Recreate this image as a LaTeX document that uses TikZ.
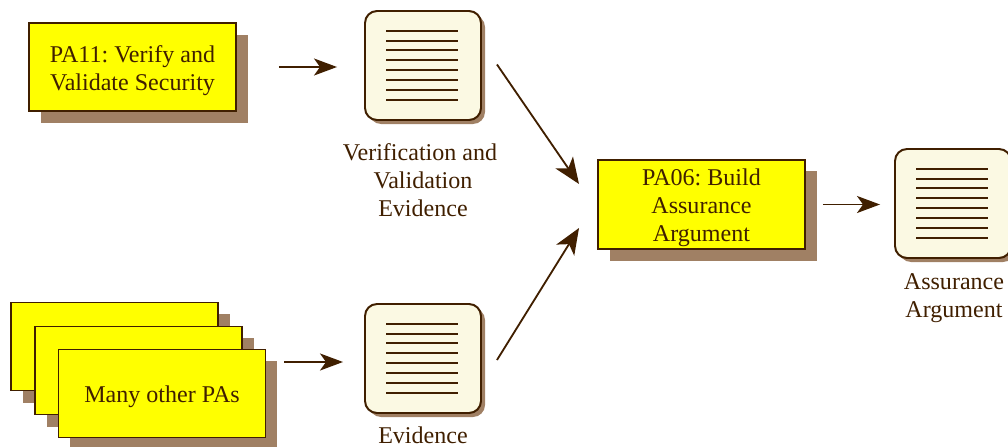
\documentclass[tikz,border=0pt]{standalone}
\usepackage{fontspec}
\setmainfont{Liberation Serif}
\frenchspacing
\usetikzlibrary{arrows.meta}
\definecolor{inkbrown}{HTML}{401F00}
\definecolor{shadebrown}{HTML}{A08064}
\definecolor{paperyellow}{HTML}{FBF9E3}
\definecolor{boxyellow}{RGB}{255,255,0}
\tikzset{
    pabox/.style={draw=inkbrown, line width=1.4pt, fill=boxyellow, minimum width=207*0.025cm, minimum height=88*0.025cm, inner sep=0pt},
    patext/.style={text=inkbrown, align=center, inner sep=0pt, font=\fontsize{17.1}{19.8}\selectfont},
    shadebox/.style={fill=shadebrown},
    docbox/.style={draw=inkbrown, line width=1.4pt, fill=paperyellow, rounded corners=12*0.025cm, minimum width=116*0.025cm, minimum height=109*0.025cm, inner sep=0pt},
    docline/.style={draw=inkbrown, line width=1.3pt},
    flow/.style={draw=inkbrown, line width=1.3pt, -{Stealth[length=23*0.025cm, width=17*0.025cm, inset=6*0.025cm]}},
    bigflow/.style={flow, -{Stealth[length=26*0.025cm, width=21*0.025cm, inset=7*0.025cm]}}
}
\begin{document}
\begin{tikzpicture}[x=0.025cm, y=-0.025cm]
    \useasboundingbox (0, 0) rectangle (1008, 447);

    % PA11
    \fill[shadebox] (41, 35) rectangle (248, 123);
    \node[pabox] (pa11) at (132.5, 67) {};
    \node[patext] (pa11text) at (132.5, 70.5) {PA11: Verify and\\Validate Security};

    % Verification evidence
    \fill[shadebrown, rounded corners=12*0.025cm] (369, 15) rectangle (485, 124);
    \node[docbox] (vvdoc) at (423, 65.5) {};
    \draw[docline] (386, 30.7) -- (458, 30.7);
    \draw[docline] (386, 40.6) -- (458, 40.6);
    \draw[docline] (386, 50.4) -- (458, 50.4);
    \draw[docline] (386, 60.3) -- (458, 60.3);
    \draw[docline] (386, 70.1) -- (458, 70.1);
    \draw[docline] (386, 80) -- (458, 80);
    \draw[docline] (386, 89.8) -- (458, 89.8);
    \draw[docline] (386, 99.7) -- (458, 99.7);
    \node[patext] (vvlabel) at (423, 180) {Verification and\hspace*{0.15cm}\\Validation\\Evidence};

    % Many other PAs
    \fill[shadebox] (23, 314) rectangle (230, 403);
    \node[pabox] (otherback) at (114.5, 346.5) {};
    \fill[shadebox] (47, 338) rectangle (254, 427);
    \node[pabox] (othermid) at (138.5, 370.5) {};
    \fill[shadebox] (70, 361) rectangle (277, 450);
    \node[pabox] (otherfront) at (162, 393.5) {};
    \node[patext] (othertext) at (162, 397) {Many other PAs};

    % Other evidence
    \fill[shadebrown, rounded corners=12*0.025cm] (369, 308) rectangle (485, 417);
    \node[docbox] (evdoc) at (423, 358.5) {};
    \draw[docline] (386, 323.7) -- (458, 323.7);
    \draw[docline] (386, 333.6) -- (458, 333.6);
    \draw[docline] (386, 343.4) -- (458, 343.4);
    \draw[docline] (386, 353.3) -- (458, 353.3);
    \draw[docline] (386, 363.1) -- (458, 363.1);
    \draw[docline] (386, 373) -- (458, 373);
    \draw[docline] (386, 382.8) -- (458, 382.8);
    \draw[docline] (386, 392.7) -- (458, 392.7);
    \node[patext] (evlabel) at (423, 435.4) {Evidence};

    % PA06
    \fill[shadebox] (610, 171) rectangle (817, 261);
    \node[pabox, minimum height=89*0.025cm] (pa06) at (701.5, 204.5) {};
    \node[patext] (pa06text) at (701.5, 208) {PA06: Build\\Assurance\\Argument};

    % Assurance argument
    \fill[shadebrown, rounded corners=12*0.025cm] (899, 153) rectangle (1015, 262);
    \node[docbox] (asdoc) at (953, 203.5) {};
    \draw[docline] (916, 168.7) -- (988, 168.7);
    \draw[docline] (916, 178.6) -- (988, 178.6);
    \draw[docline] (916, 188.4) -- (988, 188.4);
    \draw[docline] (916, 198.3) -- (988, 198.3);
    \draw[docline] (916, 208.1) -- (988, 208.1);
    \draw[docline] (916, 218) -- (988, 218);
    \draw[docline] (916, 227.8) -- (988, 227.8);
    \draw[docline] (916, 237.7) -- (988, 237.7);
    \node[patext] (aslabel) at (954, 298) {Assurance\\Argument};

    % Connectors
    \draw[flow, shorten <=42*0.025cm, shorten >=27*0.025cm] (pa11.east) -- (pa11.east -| vvdoc.west);
    \draw[flow, shorten <=18*0.025cm, shorten >=21*0.025cm] ([yshift=-3.5*0.025cm]otherfront.east |- evdoc.west) -- ([yshift=-3.5*0.025cm]evdoc.west);
    \draw[flow, shorten <=17*0.025cm, shorten >=14*0.025cm] (pa06.east) -- (pa06.east -| asdoc.west);
    \draw[bigflow] ([xshift=15*0.025cm, yshift=1*0.025cm]vvdoc.east) -- ([xshift=-18*0.025cm, yshift=20.5*0.025cm]pa06.west);
    \draw[bigflow] ([xshift=15*0.025cm, yshift=-1.5*0.025cm]evdoc.east) -- ([xshift=-18*0.025cm, yshift=-23.5*0.025cm]pa06.west);
\end{tikzpicture}
\end{document}
